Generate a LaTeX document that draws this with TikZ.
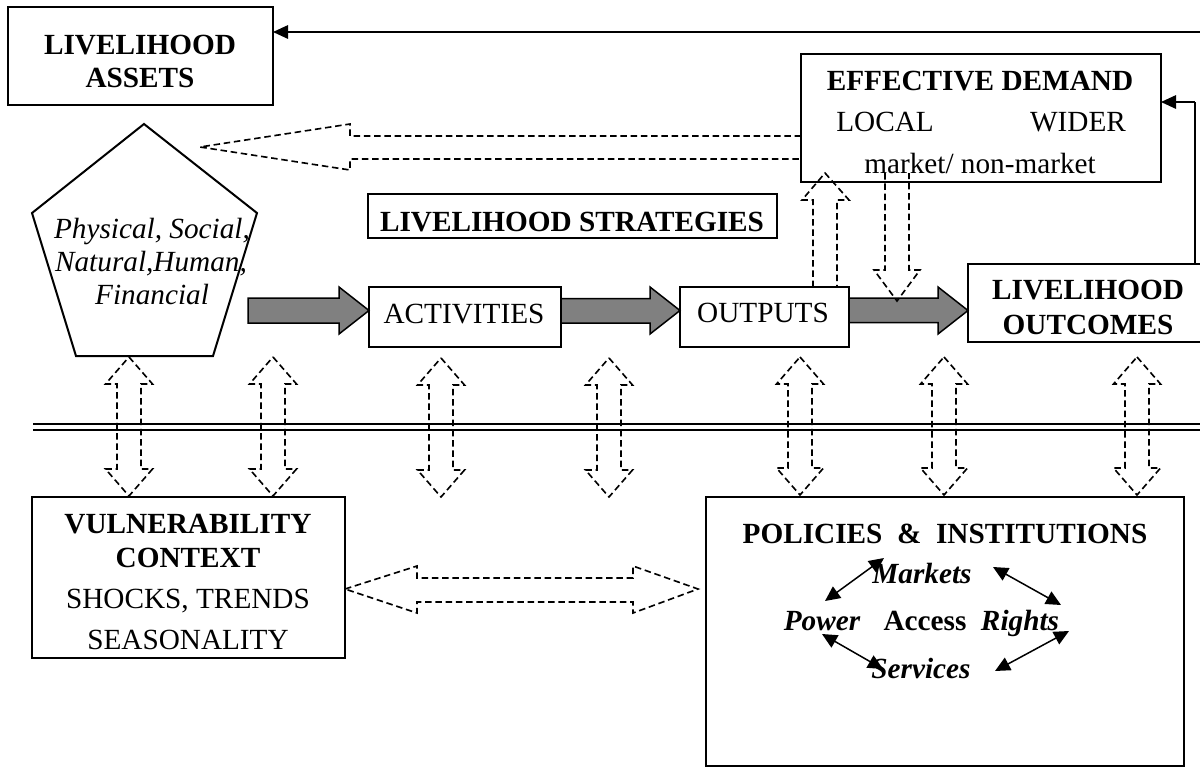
\documentclass[tikz,border=0pt]{standalone}
\usepackage{fontspec}
\setmainfont{Liberation Serif}
\usetikzlibrary{arrows.meta,calc,fit}
\definecolor{arrgrey}{RGB}{128,128,128}
\newcommand\vdbl[3]{%
  \draw[dsh] (#1,#2) -- ++(23.5,27) -- ++(-11.5,0) -- (#1+12,#3-27) -- ++(11.5,0) -- (#1,#3)
    -- ++(-23.5,-27) -- ++(11.5,0) -- (#1-12,#2+27) -- ++(-11.5,0) -- cycle;}
\begin{document}
\begin{tikzpicture}[x=0.4pt,y=-0.4pt,
  box/.style={draw,line width=0.8pt,inner sep=0pt,outer sep=0pt,rectangle},
  txt/.style={anchor=base,inner sep=0pt,font=\fontsize{11.7}{13.2}\selectfont},
  bft/.style={anchor=base,inner sep=0pt,font=\fontsize{11.7}{13.2}\selectfont\bfseries},
  itt/.style={anchor=base,inner sep=0pt,font=\fontsize{11.7}{13.2}\selectfont\itshape},
  bit/.style={anchor=base,inner sep=0pt,font=\fontsize{11.7}{13.2}\selectfont\bfseries\itshape},
  dsh/.style={draw,line width=0.65pt,dash pattern=on 2.6pt off 1.5pt},
  greyar/.style={draw=black,fill=arrgrey,line width=0.6pt,line join=miter},
  conn/.style={draw,line width=0.6pt,-{Triangle[length=6pt,width=5.4pt]}},
  conn2/.style={draw,line width=0.6pt,{Triangle[length=6pt,width=5.6pt]}-{Triangle[length=6pt,width=5.6pt]}}
]
\useasboundingbox (0,0) rectangle (1200,768);

% boxes
\node[box,fit={(8,7) (273,105)}] (assets) {};
\node[box,fit={(801,54) (1161,182)}] (ed) {};
\node[box,fit={(368,194) (777,238)}] (strat) {};
\node[box,fit={(369,287) (561,347)}] (act) {};
\node[box,fit={(680,287) (849,347)}] (outp) {};
\node[box,fit={(968,264) (1203,342)}] (outc) {};
\node[box,fit={(32,497) (345,658)}] (vuln) {};
\node[box,fit={(706,497) (1184,766)}] (pol) {};

% pentagon
\draw[line width=0.8pt,line join=miter] (144,124) -- (257,213) -- (213,356) -- (76,356) -- (32,213) -- cycle;

% texts
\node[bft] (a1) at (140,54) {LIVELIHOOD};
\node[bft] (a2) at (140,87) {ASSETS};
\node[bft] (e1) at (980,90) {EFFECTIVE DEMAND};
\node[txt] (e2) at (885,131) {LOCAL};
\node[txt] (e3) at (1078,131) {WIDER};
\node[txt] (e4) at (980,173) {market/ non-market};
\node[bft] (s1) at (572,231) {LIVELIHOOD STRATEGIES};
\node[txt] (ac1) at (464,323) {ACTIVITIES};
\node[txt] (o1) at (763,322) {OUTPUTS};
\node[bft] (oc1) at (1088,299) {LIVELIHOOD};
\node[bft] (oc2) at (1088,334) {OUTCOMES};
\node[itt] (p1) at (152,238) {Physical, Social,};
\node[itt] (p2) at (151,271) {Natural,Human,};
\node[itt] (p3) at (152,304) {Financial};
\node[bft] (v1) at (188,533) {VULNERABILITY};
\node[bft] (v2) at (188,567) {CONTEXT};
\node[txt] (v3) at (188,608) {SHOCKS, TRENDS};
\node[txt] (v4) at (188,649) {SEASONALITY};
\node[bft] (pi1) at (945,543) {POLICIES\ \ \&\ \ INSTITUTIONS};
\node[bit] (mk) at (922,583) {Markets};
\node[bit] (pw) at (822,630) {Power};
\node[bft] (acc) at (925,630) {Access};
\node[bit] (rg) at (1020,630) {Rights};
\node[bit] (sv) at (921,678) {Services};

% double separator line
\draw[line width=0.8pt] (33,424) -- (1200,424);
\draw[line width=0.8pt] (33,429.5) -- (1200,429.5);

% grey block arrows
\draw[greyar] (248,298) -- (339,298) -- (339,287) -- (act.west |- 0,310.5) -- (339,334) -- (339,323) -- (248,323) -- cycle;
\draw[greyar] (act.east |- 0,298.5) -- (650,298.5) -- (650,287) -- (outp.west |- 0,310.5) -- (650,334) -- (650,323) -- (act.east |- 0,323) -- cycle;
\draw[greyar] (outp.east |- 0,298) -- (938,298) -- (938,287) -- (outc.west |- 0,310.5) -- (938,334) -- (938,322.5) -- (outp.east |- 0,322.5) -- cycle;

% dashed hollow arrows
\draw[dsh] (ed.west |- 0,136) -- (350,136) -- (350,124) -- (200,147) -- (350,170) -- (350,159) -- (ed.west |- 0,159);
\draw[dsh] (813,287) -- (813,200) -- (802,200) -- (825,173) -- (849,200) -- (837,200) -- (837,287);
\draw[dsh] (885,173) -- (885,270) -- (874,270) -- (897,301) -- (920,270) -- (909,270) -- (909,173);
\draw[dsh] (vuln.east |- 0,589) -- (417,566) -- (417,578) -- (633,578) -- (633,566) -- (698,589) -- (633,613) -- (633,602) -- (417,602) -- (417,613) -- cycle;
\vdbl{129}{357}{496}
\vdbl{273}{357}{496}
\vdbl{441}{358}{497}
\vdbl{609}{358}{497}
\vdbl{800}{357}{495}
\vdbl{944}{357}{495}
\vdbl{1137}{357}{495}

% feedback connectors
\coordinate (topR) at (1200,32);
\draw[conn] (topR) -- (topR -| assets.east);
\coordinate (fbTop) at (1195,102);
\draw[line width=0.6pt] (outc.north -| fbTop) -- (fbTop);
\draw[conn] (fbTop) -- (fbTop -| ed.east);

% policies arrows
\coordinate (q1a) at (825,601); \coordinate (q1b) at (884,558);
\coordinate (q2a) at (993,567); \coordinate (q2b) at (1061,605);
\coordinate (q3a) at (822,634); \coordinate (q3b) at (883,669);
\coordinate (q4a) at (1069,631); \coordinate (q4b) at (995,671);
\draw[conn2] (q1a) -- (q1b);
\draw[conn2] (q2a) -- (q2b);
\draw[conn2] (q3a) -- (q3b);
\draw[conn2] (q4a) -- (q4b);
\end{tikzpicture}
\end{document}
